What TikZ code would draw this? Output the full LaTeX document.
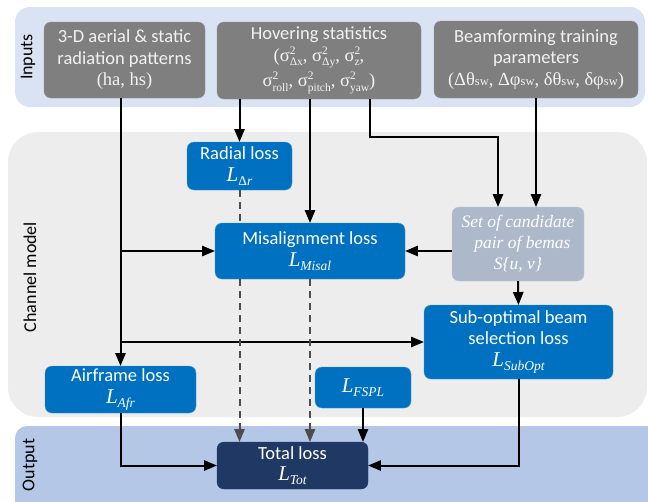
\documentclass[tikz,border=0pt]{standalone}
\usepackage{fontspec}
\setmainfont{Carlito}
\newfontfamily\serifgr{Liberation Serif}
\usepackage{tikz}
\usetikzlibrary{positioning, calc, arrows}
\tikzset{>=triangle 45}
\definecolor{inband}{HTML}{DAE3F3}
\definecolor{chband}{HTML}{EDEDED}
\definecolor{outband}{HTML}{B4C7E7}
\definecolor{ingray}{HTML}{7F7F7F}
\definecolor{lossblue}{HTML}{0070C0}
\definecolor{candgray}{HTML}{ADB9CA}
\definecolor{totblue}{HTML}{203864}
\newcommand{\swsub}{{\fontsize{12.5}{12}\selectfont sw}}
\newcommand{\subfont}{\serifgr\fontsize{13.5}{12}\selectfont}
\newcommand{\sigfont}{\serifgr\fontsize{11.5}{12}\selectfont}
\newcommand{\lossname}[1]{{\serifgr\itshape\fontsize{21}{22}\selectfont L\raisebox{-4pt}{\subfont\itshape #1}}}
\newcommand{\sigsq}[1]{{\serifgr σ}\rlap{\raisebox{7pt}{\sigfont 2}}\raisebox{-4.5pt}{\sigfont #1}}

\begin{document}
\begin{tikzpicture}
    [x=1pt, y=-1pt,
     box/.style={rounded corners=7pt, text=white, align=center, inner sep=0pt,
       font=\fontsize{18.5}{21.5}\selectfont},
     inputbox/.style={box, fill=ingray, draw=ingray!85!white, text=white!95!black},
     lossbox/.style={box, fill=lossblue, draw=lossblue!70!white},
     bandlabel/.style={rotate=90, font=\fontsize{18}{20}\selectfont},
     link/.style={line width=2pt},
     dashlink/.style={line width=2pt, draw=black!70, dash pattern=on 7pt off 5pt}]

    \useasboundingbox (0,0) rectangle (648,501);

    % bands
    \fill[inband, rounded corners=15pt] (15,7) rectangle (645,107);
    \fill[chband, rounded corners=30pt] (8,132) rectangle (647,417);
    \fill[outband, rounded corners=12pt] (15,426) rectangle (660,515);

    \node[bandlabel] (inputs) at (28,57) {Inputs};
    \node[bandlabel] (chmodel) at (30,277) {Channel model};
    \node[bandlabel] (output) at (30,465) {Output};

    % inputs
    \node[inputbox, minimum width=161, minimum height=76] (aerial) at (124.5,60)
      {3-D aerial \& static\\ radiation patterns\\ {\serifgr (ha, hs)}};
    \node[inputbox, minimum width=204, minimum height=77] (hover) at (319,60.5)
      {Hovering statistics\\[0pt]
       {\serifgr (\sigsq{Δx}, \sigsq{Δy}, \sigsq{z},}\\[3pt]
       {\serifgr \sigsq{roll}, \sigsq{pitch}, \sigsq{yaw})}};
    \node[inputbox, minimum width=204, minimum height=77] (beam) at (536,59.5)
      {Beamforming training\\ parameters\\
       {\serifgr (Δθ\swsub, Δφ\swsub, δθ\swsub, δφ\swsub)}};

    % channel model
    \node[lossbox, minimum width=105, minimum height=48] (radial) at (239.5,166)
      {Radial loss\\ \lossname{\upshape Δ\itshape r}};
    \node[lossbox, minimum width=190, minimum height=56] (misal) at (310,251)
      {Misalignment loss\\ \lossname{Misal}};
    \node[box, fill=candgray, draw=candgray!80!white, minimum width=132, minimum height=74,
      font=\serifgr\itshape\fontsize{17.5}{21}\selectfont] (cand) at (518,244)
      {Set of candidate\\ \ \ pair of bemas\\ S\{u, v\}};
    \node[lossbox, minimum width=189, minimum height=74] (subopt) at (518.5,342)
      {Sub-optimal beam\\ selection loss\\ \lossname{SubOpt}};
    \node[lossbox, minimum width=151, minimum height=47] (airframe) at (120.5,389.5)
      {Airframe loss\\ \lossname{Afr}};
    \node[lossbox, minimum width=96, minimum height=41] (fspl) at (363,387.5)
      {\lossname{FSPL}};

    % output
    \node[box, fill=totblue, draw=totblue, minimum width=151, minimum height=47] (total) at (292.5,465.5)
      {Total loss\\ \lossname{Tot}};

    \draw[link, ->] (airframe.north |- aerial.south) -- (airframe.north);
    \draw[link, ->] (airframe.north |- misal.west) -- (misal.west);
    \draw[link, ->] (airframe.north |- subopt.west) -- (subopt.west);
    \draw[link, ->] (radial.north |- hover.south) -- (radial.north);
    \draw[link, ->] (misal.north |- hover.south) -- (misal.north);
    \draw[link, ->] ([xshift=51pt]hover.south) -- ++(0,38) -| ([xshift=-20pt]cand.north);
    \draw[link, ->] (beam.south) -- (beam.south |- cand.north);
    \draw[link, ->] (cand.west |- misal.east) -- (misal.east);
    \draw[link, ->] (cand.south) -- (subopt.north);
    \draw[dashlink] (radial.south) -- (radial.south |- misal.north);
    \draw[dashlink, ->] (radial.south |- misal.south) -- (radial.south |- total.north);
    \draw[dashlink, ->] (misal.south) -- (misal.south |- total.north);
    \draw[link, ->] (fspl.south) -- (fspl.south |- total.north);
    \draw[link, ->] (airframe.south) |- (total.west);
    \draw[link, ->] (subopt.south) |- (total.east);
  \end{tikzpicture}
\end{document}
